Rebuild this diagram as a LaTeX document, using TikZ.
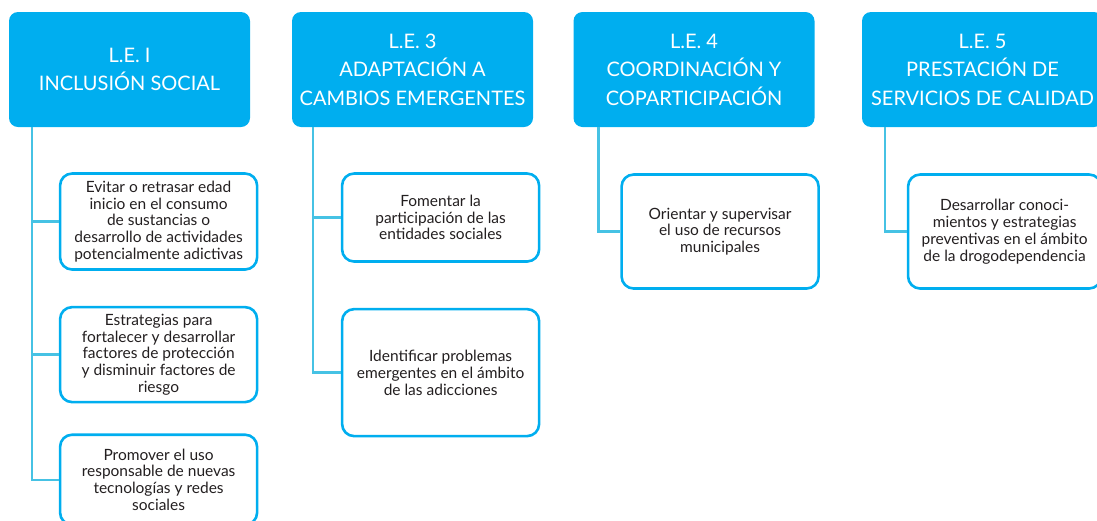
\documentclass[tikz,border=0pt]{standalone}
\usepackage{fontspec}
\setmainfont{Lato}
\usetikzlibrary{positioning}
\definecolor{leblue}{RGB}{0,174,239}
\definecolor{linkblue}{RGB}{70,194,228}
\definecolor{textdark}{RGB}{35,31,32}
\tikzset{
  lehead/.style={rectangle, rounded corners=9pt, fill=leblue, text=white,
    minimum width=241pt, minimum height=115pt, align=center, inner sep=0pt,
    font=\fontsize{20}{28.5}\selectfont},
  goal/.style={rectangle, rounded corners=12pt, draw=leblue, line width=2.6pt,
    fill=white, text=textdark, minimum width=197pt, align=center,
    inner sep=0pt, font=\fontsize{15.5}{16.8}\selectfont},
  branch/.style={line width=2.4pt, color=linkblue},
}
\begin{document}
\begin{tikzpicture}[x=1pt, y=-1pt]
  \useasboundingbox (0,0) rectangle (1097,520);
  % headers
  \node[lehead] (h1) at (129.5,69.5) {L.E. I\\INCLUSIÓN SOCIAL};
  \node[lehead] (h3) at (412.5,69.5) {L.E. 3\\ADAPTACIÓN A\\CAMBIOS EMERGENTES};
  \node[lehead] (h4) at (694,69.5) {L.E. 4\\COORDINACIÓN Y\\COPARTICIPACIÓN};
  \node[lehead] (h5) at (982.5,69.5) {L.E. 5\\PRESTACIÓN DE\\SERVICIOS DE CALIDAD};
  % goals
  \node[goal, minimum height=96pt, below right=45pt and 50pt of h1.south west] (g11)
        {Evitar o retrasar edad\\inicio en el consumo\\de sustancias o\\desarrollo de actividades\\potencialmente adictivas};
  \node[goal, minimum height=95pt, below=35pt of g11] (g12)
        {Estrategias para\\fortalecer y desarrollar\\factores de protección\\y disminuir factores de\\riesgo};
  \node[goal, minimum height=90pt, below=30pt of g12] (g13)
        {Promover el uso\\responsable de nuevas\\tecnologías y redes\\sociales};
  \node[goal, minimum height=88pt, below right=45pt and 49pt of h3.south west] (g31)
        {Fomentar la\\participación de las\\entidades sociales};
  \node[goal, minimum height=127pt, below=45pt of g31] (g32)
        {Identificar problemas\\emergentes en el ámbito\\de las adicciones};
  \node[goal, minimum height=114pt, below right=46pt and 47pt of h4.south west] (g41)
        {Orientar y supervisar\\el uso de recursos\\municipales};
  \node[goal, minimum height=114pt, minimum width=193pt,
        below right=46pt and 45pt of h5.south west] (g51)
        {Desarrollar conoci-\\mientos y estrategias\\preventivas en el ámbito\\de la drogodependencia};
  % branches
  \foreach \g in {g11,g12,g13}
    \draw[branch] ([xshift=23pt]h1.south west) |- (\g.west);
  \foreach \g in {g31,g32}
    \draw[branch] ([xshift=21pt]h3.south west) |- (\g.west);
  \draw[branch] ([xshift=25pt]h4.south west) |- (g41.west);
  \draw[branch] ([xshift=23pt]h5.south west) |- (g51.west);
\end{tikzpicture}
\end{document}
